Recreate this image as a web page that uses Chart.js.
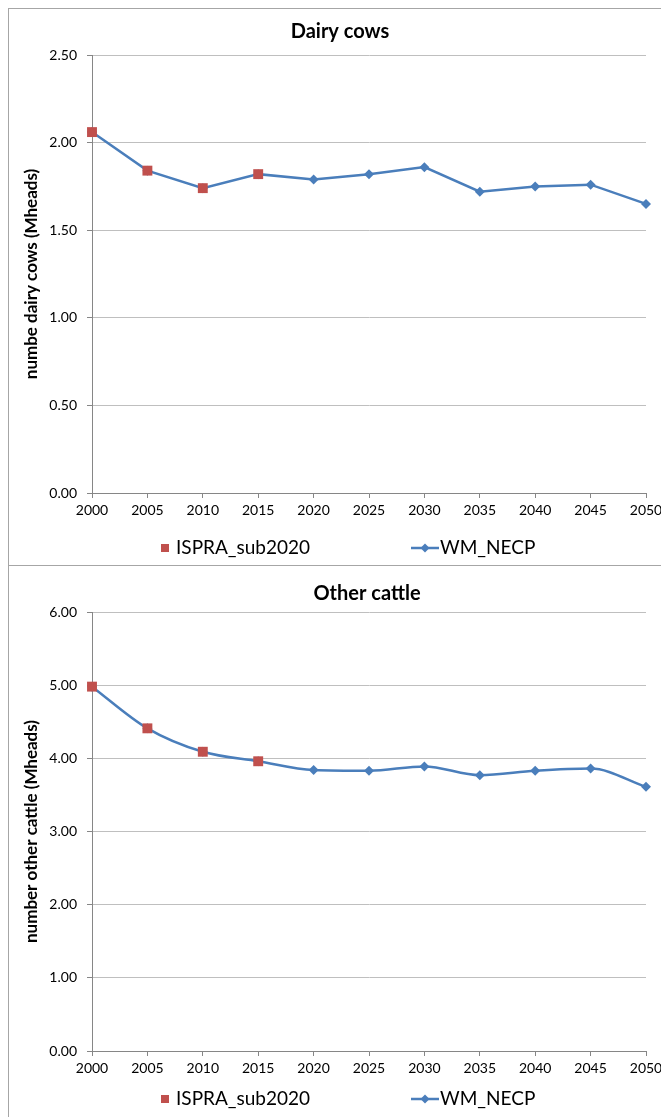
<!DOCTYPE html>
<html><head><meta charset="utf-8">
<script src="https://cdn.jsdelivr.net/npm/chart.js@4.4.1/dist/chart.umd.min.js"></script>
<style>
html,body{margin:0;padding:0;background:#fff;width:661px;height:1117px;overflow:hidden;}
.frame{position:absolute;left:8px;border-left:1px solid #a6a6a6;border-top:1px solid #a6a6a6;width:660px;}
#f1{top:8px;height:557px}
#f2{top:565px;height:560px}
.wrap{position:absolute;left:0;width:661px}
canvas{display:block}
</style></head><body>
<div class="frame" id="f1"></div><div class="frame" id="f2"></div>
<div class="wrap" style="top:0;height:565px"><canvas id="c1" width="661" height="565"></canvas></div>
<div class="wrap" style="top:565px;height:552px"><canvas id="c2" width="661" height="552"></canvas></div>
<script>
const years = ['2000','2005','2010','2015','2020','2025','2030','2035','2040','2045','2050'];
const dairyISPRA = [2.06, 1.84, 1.74, 1.82, null, null, null, null, null, null, null];
const dairyWM = [2.06, 1.84, 1.74, 1.82, 1.79, 1.82, 1.86, 1.72, 1.75, 1.76, 1.65];
const cattleISPRA = [4.98, 4.41, 4.09, 3.96, null, null, null, null, null, null, null];
const cattleWM = [4.98, 4.41, 4.09, 3.96, 3.84, 3.83, 3.89, 3.77, 3.83, 3.86, 3.61];
const dairyTicks = [0, 0.5, 1.0, 1.5, 2.0, 2.5];
const cattleTicks = [0, 1, 2, 3, 4, 5, 6];
const seriesNames = ['ISPRA_sub2020', 'WM_NECP'];

const RED = '#C0504D', BLUE = '#4A7EBB';
const FONT = 'Lato, "Open Sans", sans-serif';

const decor = {
  id: 'decor',
  afterDraw(chart, args, opts) {
    const ctx = chart.ctx, ca = chart.chartArea;
    ctx.save();
    ctx.fillStyle = '#000';
    ctx.font = 'bold 20px ' + FONT;
    ctx.textAlign = 'center';
    ctx.textBaseline = 'middle';
    ctx.fillText(opts.title, opts.titleX, opts.titleY);
    const ly = ca.bottom + opts.legendDy;
    ctx.font = '19px ' + FONT;
    ctx.textAlign = 'left';
    ctx.fillStyle = RED;
    ctx.fillRect(161, ly - 4, 8, 8);
    ctx.fillStyle = '#000';
    ctx.fillText(seriesNames[0], 176, ly);
    ctx.strokeStyle = BLUE; ctx.lineWidth = 2.5;
    ctx.beginPath(); ctx.moveTo(411, ly); ctx.lineTo(439, ly); ctx.stroke();
    ctx.fillStyle = BLUE;
    ctx.beginPath(); ctx.moveTo(425, ly - 4.5); ctx.lineTo(429.5, ly); ctx.lineTo(425, ly + 4.5); ctx.lineTo(420.5, ly); ctx.closePath(); ctx.fill();
    ctx.fillStyle = '#000';
    ctx.fillText(seriesNames[1], 440, ly);
    ctx.restore();
  }
};

function make(id, isp, wm, ticks, yTitle, smooth, pad, deco) {
  const max = ticks[ticks.length - 1];
  const step = ticks[1] - ticks[0];
  const wmSet = { label: seriesNames[1], data: wm, borderColor: BLUE, backgroundColor: BLUE, borderWidth: 2.5,
          pointStyle: 'rectRot', pointRadius: 5, pointHoverRadius: 5, pointBorderWidth: 0 };
  if (smooth) wmSet.cubicInterpolationMode = 'monotone';
  return new Chart(document.getElementById(id), {
    type: 'line',
    data: {
      labels: years,
      datasets: [
        { label: seriesNames[0], data: isp, showLine: false, pointStyle: 'rect', pointRadius: 7, pointHoverRadius: 7,
          backgroundColor: RED, borderColor: RED, borderWidth: 0 },
        wmSet
      ]
    },
    options: {
      responsive: false, animation: false, events: [],
      layout: { padding: pad },
      plugins: { legend: { display: false }, tooltip: { enabled: false }, title: { display: false }, decor: deco },
      scales: {
        x: {
          offset: false,
          grid: { drawOnChartArea: false, drawTicks: true, tickLength: 5, tickColor: '#868686' },
          border: { color: '#868686', width: 1 },
          ticks: { color: '#000', font: { family: FONT, size: 14 }, padding: 4, maxRotation: 0, autoSkip: false },
          afterFit(s) { s.height = 30; s.paddingRight = 0; s.paddingLeft = 0; }
        },
        y: {
          min: 0, max: max,
          grid: { color: '#BFBFBF', tickLength: 5, tickColor: '#868686' },
          border: { color: '#868686', width: 1 },
          ticks: { stepSize: step, color: '#000', font: { family: FONT, size: 14 }, padding: 10,
            callback: v => Number(v).toFixed(2) },
          title: { display: true, text: yTitle, color: '#000', font: { family: FONT, size: 17, weight: 'bold' }, padding: { top: 13, bottom: 0 } },
          afterFit(s) { s.width = 84; }
        }
      }
    },
    plugins: [decor]
  });
}

make('c1', dairyISPRA, dairyWM, dairyTicks, 'numbe dairy cows (Mheads)', false,
  { left: 8, right: 15, top: 55, bottom: 42 }, { title: 'Dairy cows', titleX: 340, titleY: 32, legendDy: 55 });
make('c2', cattleISPRA, cattleWM, cattleTicks, 'number other cattle (Mheads)', true,
  { left: 8, right: 15, top: 47, bottom: 36 }, { title: 'Other cattle', titleX: 367, titleY: 29, legendDy: 48 });
</script>
</body></html>
